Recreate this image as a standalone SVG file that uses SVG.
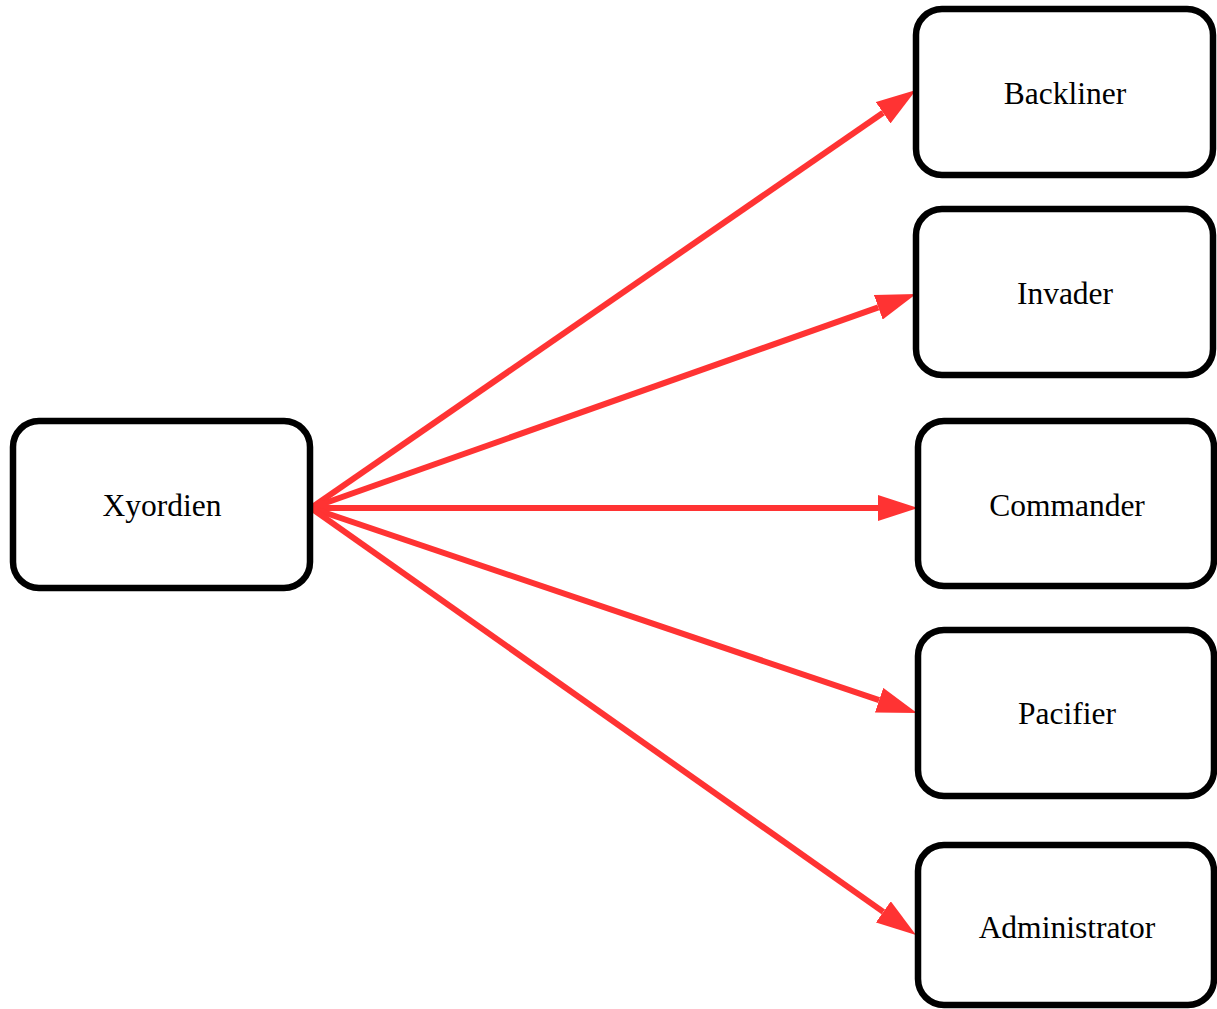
<svg xmlns="http://www.w3.org/2000/svg" width="1217" height="1009" viewBox="0 0 1217 1009">
<style>
.node rect{fill:#ffffff;stroke:#000000;stroke-width:6.5}
.node text{font-family:"Liberation Serif","Times New Roman",serif;font-size:31.5px;fill:#000000;text-anchor:middle}
.edge{stroke:#ff3333;stroke-width:6;fill:none}
</style>
<defs>
<marker id="ah" markerUnits="userSpaceOnUse" markerWidth="40" markerHeight="26" viewBox="0 0 40 26" refX="0" refY="13" orient="auto">
<path d="M0,0 L40,13 L0,26 z" fill="#ff3333"/>
</marker>
</defs>
<rect width="1217" height="1009" fill="#ffffff"/>
<g id="connectors">
<line class="edge" x1="311" y1="508" x2="883.1" y2="112.7" marker-end="url(#ah)"/>
<line class="edge" x1="311" y1="508" x2="878.3" y2="307.3" marker-end="url(#ah)"/>
<line class="edge" x1="311" y1="508" x2="878" y2="508" marker-end="url(#ah)"/>
<line class="edge" x1="311" y1="508" x2="879.1" y2="700.2" marker-end="url(#ah)"/>
<line class="edge" x1="311" y1="508" x2="883.3" y2="911.9" marker-end="url(#ah)"/>
</g>
<g id="node-xyordien" class="node">
<rect x="13" y="421" width="297" height="167" rx="26"/>
<text x="162" y="516">Xyordien</text>
</g>
<g id="node-backliner" class="node">
<rect x="916" y="9" width="297" height="166" rx="26"/>
<text x="1065" y="104">Backliner</text>
</g>
<g id="node-invader" class="node">
<rect x="916" y="209" width="297" height="166" rx="26"/>
<text x="1065" y="304">Invader</text>
</g>
<g id="node-commander" class="node">
<rect x="918" y="421" width="296" height="165" rx="26"/>
<text x="1067" y="516">Commander</text>
</g>
<g id="node-pacifier" class="node">
<rect x="918" y="630" width="296" height="166" rx="26"/>
<text x="1067" y="724">Pacifier</text>
</g>
<g id="node-administrator" class="node">
<rect x="918" y="845" width="296" height="160" rx="26"/>
<text x="1067" y="938">Administrator</text>
</g>
</svg>
